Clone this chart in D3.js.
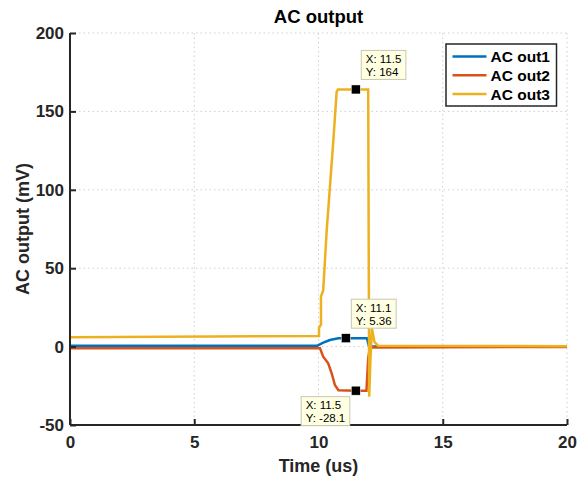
<!DOCTYPE html>
<html>
<head>
<meta charset="utf-8">
<script src="https://cdn.jsdelivr.net/npm/d3@7"></script>
<style>
  html, body { margin: 0; padding: 0; background: #fff; }
  svg { display: block; font-family: "Liberation Sans", Arial, Helvetica, sans-serif; }
</style>
</head>
<body>
<svg id="chart" width="581" height="477"></svg>
<script>
// Time axis (us) and output traces (mV)
const out1Time = [0, 9.95, 10.0, 10.19, 10.46, 10.8, 11.1, 11.95, 12.0, 12.03, 12.1, 20];
const out1Vals = [0.6, 0.6, 1.0, 2.5, 4.2, 5.3, 5.36, 5.36, 2.1, 0.5, 0.1, 0.1];

const out2Time = [0, 10.0, 10.06, 10.19, 10.39, 10.53, 10.66, 10.8, 11.5, 11.93, 12.0, 12.07, 20];
const out2Vals = [-1.1, -1.1, -1.1, -6.4, -10.7, -17, -24.5, -27.8, -28.1, -28.1, -7.4, -0.5, -0.2];

const out3Time = [0, 10.0, 10.02, 10.02, 10.1, 10.1, 10.19, 10.33, 10.6, 10.73, 10.78, 11.5, 12.0, 12.04, 12.09, 12.15, 12.25, 12.4, 20];
const out3Vals = [6.0, 6.8, 6.8, 12, 14, 32, 36, 74, 132, 162.5, 164, 164, 164, -32, -8, 11.7, 3, 0.5, 0.3];

const seriesNames = ["AC out1", "AC out2", "AC out3"];
const seriesColors = ["#0072BD", "#D95319", "#EDB120"];

// Data tips: series index, x, y
const tipSeries = [2, 0, 1];
const tipX = [11.5, 11.1, 11.5];
const tipY = [164, 5.36, -28.1];

const xTicks = [0, 5, 10, 15, 20];
const yTicks = [-50, 0, 50, 100, 150, 200];

const svg = d3.select("#chart");
const plotL = 70, plotR = 567, plotT = 33, plotB = 425;

const x = d3.scaleLinear().domain([0, 20]).range([plotL, plotR]);
const y = d3.scaleLinear().domain([-50, 200]).range([plotB, plotT]);

// grid
const grid = svg.append("g").attr("stroke", "#cfcfcf").attr("stroke-width", 1).attr("stroke-dasharray", "1.5,3");
xTicks.filter(d => d !== 0).forEach(d => {
  grid.append("line").attr("x1", x(d)).attr("x2", x(d)).attr("y1", plotT).attr("y2", plotB);
});
yTicks.filter(d => d !== -50).forEach(d => {
  grid.append("line").attr("x1", plotL).attr("x2", plotR).attr("y1", y(d)).attr("y2", y(d));
});

// traces
const series = [
  { t: out1Time, v: out1Vals },
  { t: out2Time, v: out2Vals },
  { t: out3Time, v: out3Vals }
];
const line = d3.line().x(d => x(d[0])).y(d => y(d[1]));
series.forEach((s, i) => {
  const pts = s.t.map((t, k) => [t, s.v[k]]);
  svg.append("path").datum(pts)
    .attr("d", line)
    .attr("fill", "none")
    .attr("stroke", seriesColors[i])
    .attr("stroke-width", 2.5)
    .attr("stroke-linejoin", "miter");
});

// axes
const axisColor = "#262626";
const plain = d => String(d);
const xAxis = svg.append("g").attr("transform", `translate(0,${plotB})`)
  .call(d3.axisBottom(x).tickValues(xTicks).tickSize(-6).tickPadding(11).tickFormat(plain));
const yAxis = svg.append("g").attr("transform", `translate(${plotL},0)`)
  .call(d3.axisLeft(y).tickValues(yTicks).tickSize(-6).tickPadding(6).tickFormat(plain));
xAxis.select(".domain").attr("d", `M${plotL},0H${plotR}`);
yAxis.select(".domain").attr("d", `M0,${plotT}V${plotB}`);
[xAxis, yAxis].forEach(a => {
  a.select(".domain").attr("stroke", axisColor).attr("stroke-width", 2);
  a.selectAll(".tick line").attr("stroke", axisColor).attr("stroke-width", 2);
  a.selectAll(".tick text").attr("fill", axisColor).attr("font-size", 17).attr("font-weight", "bold");
});

// labels
svg.append("text").attr("x", (plotL + plotR) / 2).attr("y", 23)
  .attr("text-anchor", "middle").attr("font-size", 18.5).attr("font-weight", "bold")
  .attr("fill", "#000").text("AC output");
svg.append("text").attr("x", (plotL + plotR) / 2).attr("y", 472)
  .attr("text-anchor", "middle").attr("font-size", 18).attr("font-weight", "bold")
  .attr("fill", axisColor).text("Time (us)");
svg.append("text").attr("transform", `translate(29,${(plotT + plotB) / 2}) rotate(-90)`)
  .attr("text-anchor", "middle").attr("font-size", 18).attr("font-weight", "bold")
  .attr("fill", axisColor).text("AC output (mV)");

// data tips
const tips = svg.append("g");
tipSeries.forEach((si, i) => {
  const px = x(tipX[i]), py = y(tipY[i]);
  tips.append("rect").attr("x", px - 4.5).attr("y", py - 4.5).attr("width", 9).attr("height", 9)
    .attr("fill", "#000").attr("stroke", "#fff").attr("stroke-width", 0.5);
  const g = tips.append("g");
  const box = g.append("rect").attr("fill", "#ffffe1").attr("stroke", "#c8c8b4").attr("stroke-width", 1);
  const t1 = g.append("text").attr("font-size", 11.5).attr("fill", "#000").text(`X: ${tipX[i]}`);
  const t2 = g.append("text").attr("font-size", 11.5).attr("fill", "#000").text(`Y: ${tipY[i]}`);
  const w = Math.max(t1.node().getComputedTextLength(), t2.node().getComputedTextLength()) + 9;
  const h = 29;
  let bx, by;
  if (tipY[i] < 0) { bx = px - 6 - w; by = py + 6; }
  else { bx = px + 5.5; by = py - 10 - h; }
  box.attr("x", bx).attr("y", by).attr("width", w).attr("height", h);
  t1.attr("x", bx + 4.5).attr("y", by + 12.5);
  t2.attr("x", bx + 4.5).attr("y", by + 25.5);
});

// legend
const lg = svg.append("g");
lg.append("rect").attr("x", 446).attr("y", 44).attr("width", 110.5).attr("height", 62)
  .attr("fill", "#fff").attr("stroke", axisColor).attr("stroke-width", 1.5);
seriesNames.forEach((n, i) => {
  const ly = 56.5 + i * 18.8;
  lg.append("line").attr("x1", 452.5).attr("x2", 486.5).attr("y1", ly).attr("y2", ly)
    .attr("stroke", seriesColors[i]).attr("stroke-width", 2.5);
  lg.append("text").attr("x", 490.5).attr("y", ly).attr("dy", "0.36em")
    .attr("font-size", 15.5).attr("font-weight", "bold").attr("fill", "#000").text(n);
});
</script>
</body>
</html>
